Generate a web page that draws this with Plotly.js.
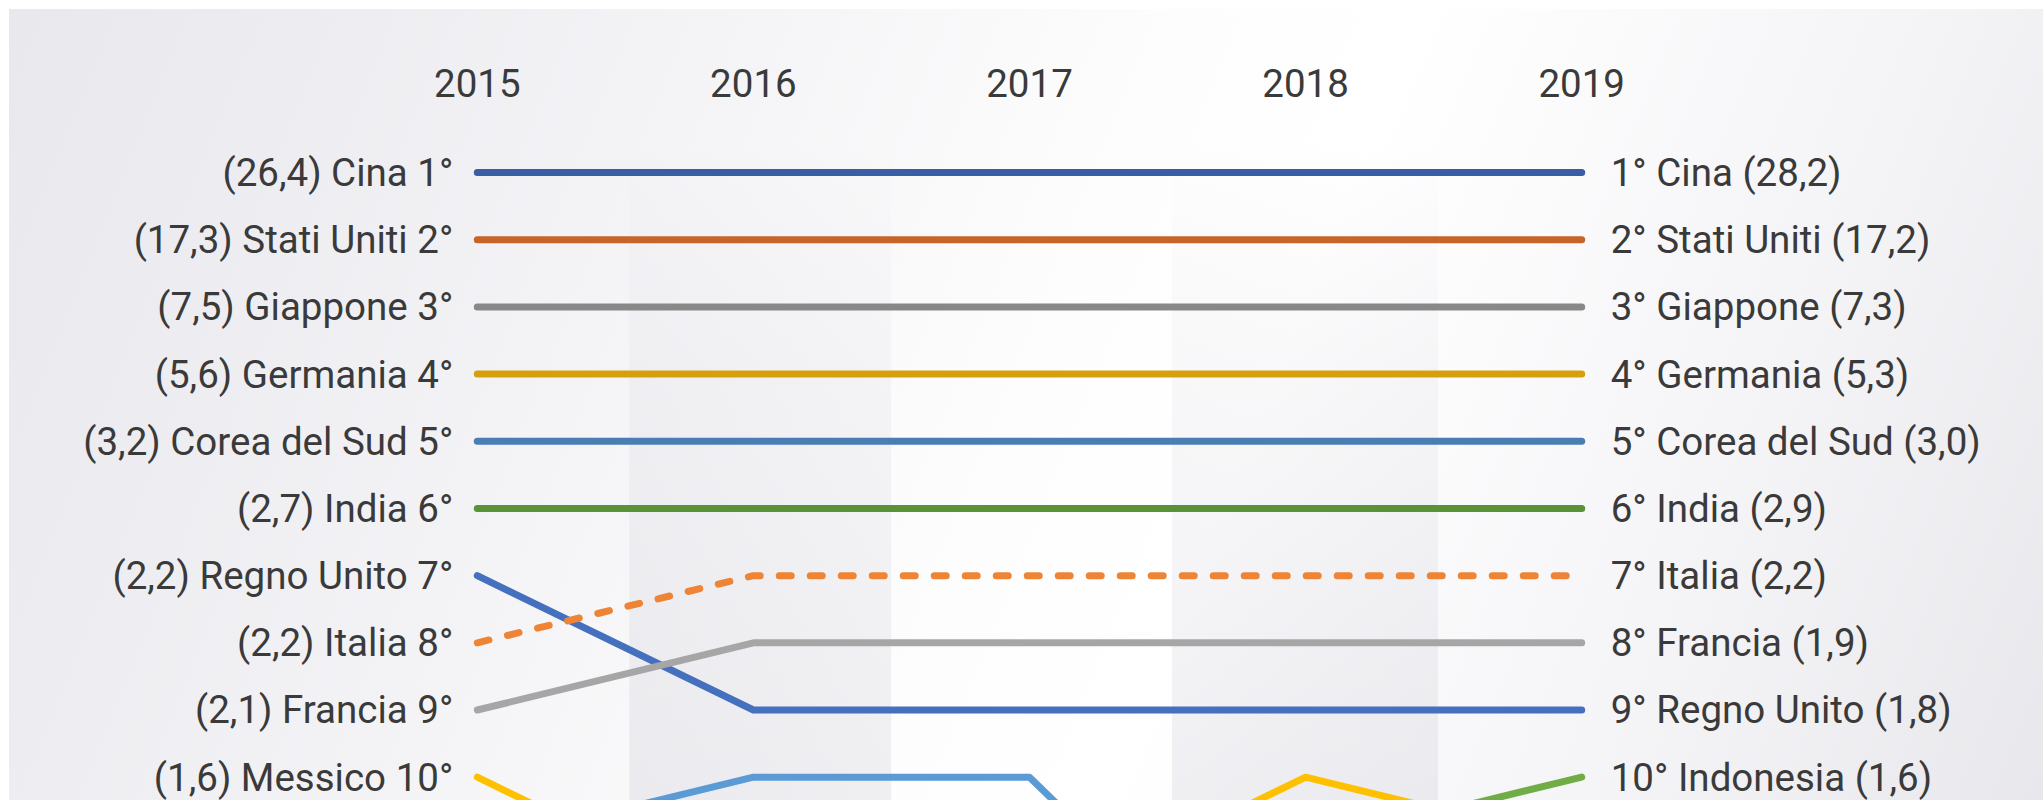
<!DOCTYPE html>
<html>
<head>
<meta charset="utf-8">
<script src="https://cdn.plot.ly/plotly-3.0.1.min.js"></script>
<style>
  html, body { margin: 0; padding: 0; background: #ffffff; }
  #card {
    position: absolute; left: 9px; top: 9px;
    width: 2034px; height: 791px;
    background: linear-gradient(112deg, #e8e8ed 0%, #f3f3f6 28%, #fdfdfd 50%, #ffffff 60%, #f4f4f7 82%, #e8e8ec 100%);
  }
  #chart { position: absolute; left: 0; top: 0; width: 2043px; height: 800px; }
  .js-line { stroke-linecap: round; stroke-linejoin: round; }
</style>
</head>
<body>
<div id="card"></div>
<div id="chart"></div>
<script>
// ---- data ----
const years = [2015, 2016, 2017, 2018, 2019];
const countries = ['Cina', 'Stati Uniti', 'Giappone', 'Germania', 'Corea del Sud', 'India',
                   'Regno Unito', 'Italia', 'Francia', 'Messico', 'Brasile', 'Indonesia'];
const rankCina        = [1, 1, 1, 1, 1];
const rankStatiUniti  = [2, 2, 2, 2, 2];
const rankGiappone    = [3, 3, 3, 3, 3];
const rankGermania    = [4, 4, 4, 4, 4];
const rankCorea       = [5, 5, 5, 5, 5];
const rankIndia       = [6, 6, 6, 6, 6];
const rankRegnoUnito  = [7, 9, 9, 9, 9];
const rankItalia      = [8, 7, 7, 7, 7];
const rankFrancia     = [9, 8, 8, 8, 8];
const rankMessico     = [10, 12, 12, 10, 11];
const rankBrasile     = [11, 10, 10, 14, null];
const rankIndonesia   = [null, null, null, 11, 10];

// top-10 tables (rank order) for first and last year
const ranks = [1, 2, 3, 4, 5, 6, 7, 8, 9, 10];
const names2015  = ['Cina', 'Stati Uniti', 'Giappone', 'Germania', 'Corea del Sud', 'India', 'Regno Unito', 'Italia', 'Francia', 'Messico'];
const values2015 = ['26,4', '17,3', '7,5', '5,6', '3,2', '2,7', '2,2', '2,2', '2,1', '1,6'];
const names2019  = ['Cina', 'Stati Uniti', 'Giappone', 'Germania', 'Corea del Sud', 'India', 'Italia', 'Francia', 'Regno Unito', 'Indonesia'];
const values2019 = ['28,2', '17,2', '7,3', '5,3', '3,0', '2,9', '2,2', '1,9', '1,8', '1,6'];

const rankSeries = [rankCina, rankStatiUniti, rankGiappone, rankGermania, rankCorea, rankIndia,
                    rankRegnoUnito, rankItalia, rankFrancia, rankMessico, rankBrasile, rankIndonesia];
const colors = ['#3A5DA6', '#C6642A', '#888888', '#D4A10C', '#4A7DB4', '#5A9236',
                '#4470BE', '#EE8435', '#A6A6A6', '#FFC000', '#5B9BD5', '#70AD47'];
const dashes = ['solid', 'solid', 'solid', 'solid', 'solid', 'solid',
                'solid', '12px,19px', 'solid', 'solid', 'solid', 'solid'];

const leftLabels  = ranks.map((r, i) => '(' + values2015[i] + ') ' + names2015[i] + ' ' + r + '°');
const rightLabels = ranks.map((r, i) => r + '° ' + names2019[i] + ' (' + values2019[i] + ')');

// ---- traces ----
const traces = countries.map((c, i) => ({
  type: 'scatter', mode: 'lines', name: c,
  x: years, y: rankSeries[i],
  connectgaps: false,
  line: { color: colors[i], width: 7, dash: dashes[i] },
  hoverinfo: 'x+y+name',
  yaxis: (i % 2 === 0) ? 'y' : 'y2'
}));

const textFont = { family: 'Roboto, sans-serif', size: 38.5, color: '#3a3a3a' };

// vertical-gradient column bands behind the 2016 and 2018 columns
const bandSvg = "<svg xmlns='http://www.w3.org/2000/svg' width='10' height='100' viewBox='0 0 10 100' preserveAspectRatio='none'>" +
  "<defs><linearGradient id='g' x1='0' y1='0' x2='0' y2='1'>" +
  "<stop offset='0' stop-color='rgb(110,110,140)' stop-opacity='0'/>" +
  "<stop offset='0.35' stop-color='rgb(110,110,140)' stop-opacity='0.045'/>" +
  "<stop offset='1' stop-color='rgb(110,110,140)' stop-opacity='0.10'/>" +
  "</linearGradient></defs><rect x='0' y='0' width='10' height='100' fill='url(#g)'/></svg>";
const bandSrc = 'data:image/svg+xml;charset=utf-8,' + encodeURIComponent(bandSvg);
const bandX0 = [2016 - 0.45, 2018 - 0.485];
const bandW  = [0.95, 0.965];
const images = bandX0.map((x0, i) => ({
  source: bandSrc, layer: 'below',
  xref: 'x', yref: 'paper', x: x0, y: 1,
  sizex: bandW[i], sizey: 1, sizing: 'stretch',
  xanchor: 'left', yanchor: 'top'
}));

const layout = {
  width: 2043, height: 800,
  margin: { l: 469, r: 453, t: 139, b: 0, pad: 0 },
  paper_bgcolor: 'rgba(0,0,0,0)',
  plot_bgcolor: 'rgba(0,0,0,0)',
  showlegend: false,
  font: textFont,
  xaxis: {
    range: [2014.97, 2019.03], side: 'top',
    tickmode: 'array', tickvals: years, ticktext: years.map(String),
    ticks: 'outside', ticklen: 26, tickcolor: 'rgba(0,0,0,0)',
    showgrid: false, zeroline: false, showline: false,
    tickfont: textFont, fixedrange: true
  },
  yaxis: {
    range: [10.34, 0.5],
    tickmode: 'array', tickvals: ranks, ticktext: leftLabels,
    ticks: 'outside', ticklen: 7, tickcolor: 'rgba(0,0,0,0)',
    showgrid: false, zeroline: false, showline: false,
    tickfont: textFont, fixedrange: true
  },
  yaxis2: {
    range: [10.34, 0.5], overlaying: 'y', side: 'right', anchor: 'x',
    tickmode: 'array', tickvals: ranks, ticktext: rightLabels,
    ticks: 'outside', ticklen: 12, tickcolor: 'rgba(0,0,0,0)',
    showgrid: false, zeroline: false, showline: false,
    tickfont: textFont, fixedrange: true
  },
  images: images
};

Plotly.newPlot('chart', traces, layout, { displayModeBar: false, staticPlot: true });
</script>
</body>
</html>
